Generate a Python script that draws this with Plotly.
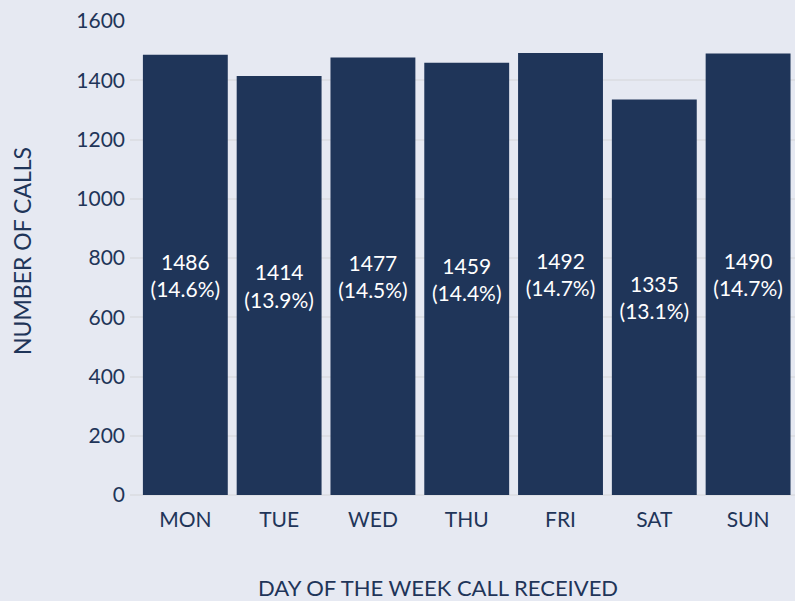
import plotly.graph_objects as go

days = ["MON", "TUE", "WED", "THU", "FRI", "SAT", "SUN"]
calls = [1486, 1414, 1477, 1459, 1492, 1335, 1490]
pct_labels = ["14.6%", "13.9%", "14.5%", "14.4%", "14.7%", "13.1%", "14.7%"]
y_ticks = [0, 200, 400, 600, 800, 1000, 1200, 1400, 1600]

NAVY = "#1F3559"
BG = "#E6E9F2"
FONT = "Lato, sans-serif"
W, H = 795, 601
ML, MR, MT, MB = 130, 0, 21, 106

texts = [f"{c}<br>({p})" for c, p in zip(calls, pct_labels)]

fig = go.Figure(go.Bar(
    x=days, y=calls, text=texts,
    textposition="inside", insidetextanchor="middle",
    textfont=dict(color="white", size=21, family=FONT),
    marker=dict(color=NAVY, line=dict(width=0)),
    hoverinfo="skip",
))

fig.update_layout(
    width=W, height=H,
    paper_bgcolor=BG, plot_bgcolor=BG,
    margin=dict(l=ML, r=MR, t=MT, b=MB),
    bargap=0.095,
    showlegend=False,
    font=dict(family=FONT, color=NAVY, size=21),
    uniformtext=dict(minsize=10, mode="show"),
    annotations=[
        dict(text="DAY OF THE WEEK CALL RECEIVED", xref="paper", yref="paper",
             x=(438 - ML) / (W - ML - MR), y=-(587 - (H - MB)) / (H - MT - MB),
             xanchor="center", yanchor="middle", showarrow=False,
             font=dict(size=22, color=NAVY)),
        dict(text="NUMBER OF CALLS", xref="paper", yref="paper",
             x=-(ML - 22) / (W - ML - MR), y=((H - MB) - 251) / (H - MT - MB),
             xanchor="center", yanchor="middle", showarrow=False, textangle=-90,
             font=dict(size=23, color=NAVY)),
    ],
)
fig.update_xaxes(
    range=[-0.59, 6.5], showgrid=False, zeroline=False, showline=False,
    ticks="", tickfont=dict(size=21, color=NAVY), ticklabelstandoff=10,
)
fig.update_yaxes(
    range=[0, 1600], tickvals=y_ticks, showgrid=True, gridcolor="#DDDFE5", gridwidth=2,
    zeroline=True, zerolinecolor="#DDDFE5", zerolinewidth=2,
    ticks="", tickfont=dict(size=21, color=NAVY), ticklabelstandoff=4,
)

fig.write_html("out.html", config={"displayModeBar": False},
               post_script="document.body.style.margin='0';")
